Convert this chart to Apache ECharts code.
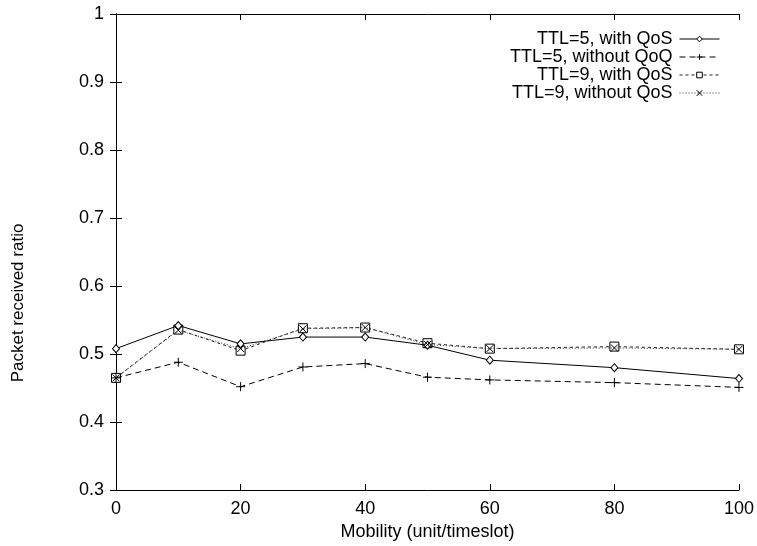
<!DOCTYPE html>
<html>
<head>
<meta charset="utf-8">
<script src="https://cdn.jsdelivr.net/npm/echarts@6/dist/echarts.min.js"></script>
<style>
  html, body { margin: 0; padding: 0; background: #fff; }
  #chart { width: 757px; height: 546px; }
</style>
</head>
<body>
<div id="chart"></div>
<script>
// Mobility values on the x axis
var mobility = [0, 10, 20, 30, 40, 50, 60, 80, 100];

// Packet received ratio for each configuration
var ttl5WithQos    = [0.508, 0.542, 0.515, 0.525, 0.525, 0.513, 0.491, 0.480, 0.464];
var ttl5WithoutQoq = [0.465, 0.488, 0.452, 0.481, 0.486, 0.466, 0.462, 0.458, 0.451];
var ttl9WithQos    = [0.465, 0.536, 0.505, 0.538, 0.539, 0.516, 0.508, 0.511, 0.507];
var ttl9WithoutQos = [0.465, 0.535, 0.508, 0.537, 0.539, 0.514, 0.508, 0.509, 0.507];

var seriesNames = [
  'TTL=5, with QoS',
  'TTL=5, without QoQ',
  'TTL=9, with QoS',
  'TTL=9, without QoS'
];

var xTicks = { min: 0, max: 100, interval: 20 };
var yTicks = { min: 0.3, max: 1, interval: 0.1 };

var FONT = 'Liberation Sans, Arial, Helvetica, sans-serif';
var FS = 18;

function pairs(values) {
  return mobility.map(function (m, i) { return [m, values[i]]; });
}

var PLUS = 'path://M0,5L10,5M5,0L5,10';
var CROSS = 'path://M0,0L10,10M10,0L0,10';

var chart = echarts.init(document.getElementById('chart'), null, { renderer: 'canvas' });

var axisCommon = {
  type: 'value',
  axisLine: { show: true, lineStyle: { color: '#000', width: 1 } },
  axisTick: { show: true, inside: true, length: 6, lineStyle: { color: '#000', width: 1 } },
  splitLine: { show: false }
};

function mk(extra) { return Object.assign({}, JSON.parse(JSON.stringify(axisCommon)), extra); }

var option = {
  animation: false,
  backgroundColor: '#fff',
  textStyle: { fontFamily: FONT, color: '#000' },
  grid: { left: 116, right: 18, top: 14, bottom: 54 },
  xAxis: [
    mk({
      position: 'bottom',
      min: xTicks.min, max: xTicks.max, interval: xTicks.interval,
      name: 'Mobility (unit/timeslot)',
      nameLocation: 'middle',
      nameGap: 25,
      nameTextStyle: { fontFamily: FONT, fontSize: FS, color: '#000' },
      axisLabel: { fontFamily: FONT, fontSize: FS, color: '#000', margin: 10 }
    }),
    mk({
      position: 'top',
      min: xTicks.min, max: xTicks.max, interval: xTicks.interval,
      axisLabel: { show: false }
    })
  ],
  yAxis: [
    mk({
      position: 'left',
      min: yTicks.min, max: yTicks.max, interval: yTicks.interval,
      axisLabel: { fontFamily: FONT, fontSize: FS, color: '#000', margin: 12 }
    }),
    mk({
      position: 'right',
      min: yTicks.min, max: yTicks.max, interval: yTicks.interval,
      axisLabel: { show: false }
    })
  ],
  legend: {
    orient: 'vertical',
    right: 37,
    top: 30,
    padding: 0,
    align: 'right',
    itemGap: 0,
    itemWidth: 40,
    itemHeight: 7,
    lineStyle: { width: 1 },
    itemStyle: { borderWidth: 1 },
    textStyle: { fontFamily: FONT, fontSize: FS, color: '#000', padding: [0, 2, 0, 0] },
    data: seriesNames
  },
  graphic: [
    {
      type: 'text',
      x: 18,
      y: 303,
      rotation: Math.PI / 2,
      style: {
        text: 'Packet received ratio',
        font: '17px ' + FONT,
        fill: '#000',
        align: 'center',
        verticalAlign: 'middle'
      }
    }
  ],
  series: [
    {
      name: seriesNames[0],
      type: 'line',
      data: pairs(ttl5WithQos),
      symbol: 'diamond',
      symbolSize: [7, 8],
      showAllSymbol: true,
      z: 4,
      lineStyle: { color: '#000', width: 1, type: 'solid' },
      itemStyle: { color: '#fff', borderColor: '#000', borderWidth: 1 }
    },
    {
      name: seriesNames[1],
      type: 'line',
      data: pairs(ttl5WithoutQoq),
      symbol: PLUS,
      symbolSize: 9,
      showAllSymbol: true,
      z: 3,
      lineStyle: { color: '#000', width: 1, type: [6, 4] },
      itemStyle: { color: 'rgba(0,0,0,0)', borderColor: '#000', borderWidth: 1 }
    },
    {
      name: seriesNames[2],
      type: 'line',
      data: pairs(ttl9WithQos),
      symbol: 'rect',
      symbolSize: 9,
      showAllSymbol: true,
      z: 2,
      lineStyle: { color: '#222', width: 1, type: [3, 3] },
      itemStyle: { color: '#fff', borderColor: '#000', borderWidth: 1 }
    },
    {
      name: seriesNames[3],
      type: 'line',
      data: pairs(ttl9WithoutQos),
      symbol: CROSS,
      symbolSize: 7,
      showAllSymbol: true,
      z: 5,
      lineStyle: { color: '#333', width: 1, type: [1, 2] },
      itemStyle: { color: 'rgba(0,0,0,0)', borderColor: '#000', borderWidth: 1 }
    }
  ]
};

chart.setOption(option);
</script>
</body>
</html>
